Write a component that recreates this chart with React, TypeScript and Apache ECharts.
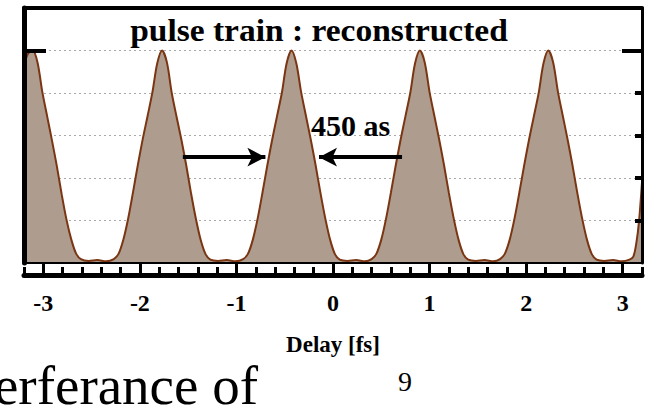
import React, { useEffect, useRef } from "react";
import * as echarts from "echarts";

// Delay [fs] sample positions
const delay = [
  -3.2, -3.16, -3.11, -3.06, -3.01, -2.96, -2.91, -2.86, -2.81, -2.76, -2.71, -2.66, -2.61, -2.53, -2.44, -2.35,
  -2.27, -2.22, -2.17, -2.12, -2.07, -2.02, -1.97, -1.92, -1.87, -1.82, -1.77, -1.72, -1.67, -1.62, -1.57, -1.52,
  -1.47, -1.42, -1.37, -1.32, -1.27, -1.19, -1.1, -1.01, -0.93, -0.88, -0.83, -0.78, -0.73, -0.68, -0.63, -0.58,
  -0.53, -0.48, -0.43, -0.38, -0.33, -0.28, -0.23, -0.18, -0.13, -0.08, -0.03, 0.02, 0.07, 0.15, 0.24, 0.33,
  0.4, 0.45, 0.5, 0.55, 0.6, 0.65, 0.7, 0.75, 0.8, 0.85, 0.9, 0.95, 1.0, 1.05, 1.1, 1.15,
  1.2, 1.25, 1.3, 1.35, 1.4, 1.48, 1.57, 1.66, 1.73, 1.78, 1.83, 1.88, 1.93, 1.98, 2.03, 2.08,
  2.13, 2.18, 2.23, 2.28, 2.33, 2.38, 2.43, 2.48, 2.53, 2.58, 2.63, 2.68, 2.73, 2.81, 2.9, 2.99,
  3.07, 3.11, 3.14, 3.17, 3.2,
];

// Reconstructed intensity (arb. units)
const intensity = [
  4.65, 4.92, 5.0, 4.72, 4.02, 3.45, 2.88, 2.28, 1.62, 1.02, 0.55, 0.22, 0.09, 0.05, 0.07, 0.04,
  0.09, 0.22, 0.56, 1.06, 1.68, 2.32, 2.92, 3.46, 4.02, 4.7, 5.0, 4.72, 4.0, 3.44, 2.9, 2.3,
  1.64, 1.04, 0.54, 0.21, 0.08, 0.05, 0.07, 0.04, 0.09, 0.22, 0.55, 1.05, 1.66, 2.3, 2.9, 3.45,
  4.0, 4.7, 5.0, 4.7, 4.02, 3.46, 2.9, 2.3, 1.65, 1.05, 0.55, 0.21, 0.08, 0.05, 0.07, 0.04,
  0.09, 0.22, 0.55, 1.05, 1.66, 2.3, 2.9, 3.45, 4.0, 4.7, 5.0, 4.72, 4.02, 3.46, 2.9, 2.3,
  1.65, 1.05, 0.55, 0.21, 0.08, 0.05, 0.07, 0.04, 0.09, 0.22, 0.55, 1.05, 1.66, 2.3, 2.9, 3.45,
  4.0, 4.7, 5.0, 4.72, 4.02, 3.46, 2.9, 2.3, 1.65, 1.05, 0.55, 0.21, 0.08, 0.05, 0.07, 0.04,
  0.08, 0.15, 0.45, 1.0, 1.9,
];

const delayTickLabels = [-3, -2, -1, 0, 1, 2, 3];
const delayMinorTicks = [
  -3.2, -3.0, -2.8, -2.6, -2.4, -2.2, -2.0, -1.8, -1.6, -1.4, -1.2, -1.0, -0.8, -0.6, -0.4, -0.2, 0,
  0.2, 0.4, 0.6, 0.8, 1.0, 1.2, 1.4, 1.6, 1.8, 2.0, 2.2, 2.4, 2.6, 2.8, 3.0, 3.2,
];
const intensityMinorTicks = [1, 2, 3, 4];
const intensityMajorTicks = [5];

// FWHM arrows (delay, intensity)
const arrowLeft = [[-1.555, 2.49], [-0.7, 2.49]];
const arrowRight = [[0.715, 2.49], [-0.145, 2.49]];

const FONT = '"Liberation Serif", "Times New Roman", serif';
const AXIS_FONT = "Liberation Serif";

export default function App() {
  const ref = useRef<HTMLDivElement>(null);
  useEffect(() => {
    if (!ref.current) return;
    const chart = echarts.init(ref.current, null, { renderer: "svg" });
    const X_MIN = -3.2;
    const X_MAX = 3.2;
    const Y_MIN = 0;
    const Y_MAX = 6;
    const hiddenX = {
      type: "value",
      min: X_MIN,
      max: X_MAX,
      splitLine: { show: false },
      axisLabel: { show: false },
      axisTick: { show: false },
    };
    const hiddenY = {
      type: "value",
      min: Y_MIN,
      max: Y_MAX,
      splitLine: { show: false },
      axisLabel: { show: false },
      axisTick: { show: false },
    };
    chart.setOption({
      animation: false,
      backgroundColor: "#ffffff",
      grid: { left: 24, right: 8, top: 8, bottom: 149, containLabel: false },
      xAxis: [
        {
          ...hiddenX,
          position: "bottom",
          offset: 12,
          z: 10,
          axisLine: { show: true, onZero: false, lineStyle: { color: "#000", width: 5 } },
          axisTick: {
            show: true,
            inside: true,
            length: 8,
            customValues: delayMinorTicks,
            lineStyle: { color: "#000", width: 3 },
          },
          axisLabel: {
            show: true,
            customValues: delayTickLabels,
            margin: 16,
            color: "#000",
            fontFamily: AXIS_FONT,
            fontWeight: "bold",
            fontSize: 24,
          },
          name: "Delay [fs]",
          nameLocation: "middle",
          nameGap: 58,
          nameTextStyle: { color: "#000", fontFamily: AXIS_FONT, fontWeight: "bold", fontSize: 23 },
        },
        {
          ...hiddenX,
          position: "bottom",
          offset: 12,
          z: 10,
          axisLine: { show: false, onZero: false },
          axisTick: {
            show: true,
            inside: true,
            length: 12,
            customValues: delayTickLabels,
            lineStyle: { color: "#000", width: 3 },
          },
        },
        {
          ...hiddenX,
          position: "bottom",
          offset: 0,
          z: 10,
          axisLine: { show: true, onZero: false, lineStyle: { color: "#000", width: 2 } },
        },
        {
          ...hiddenX,
          position: "top",
          offset: 0,
          z: 10,
          axisLine: { show: true, onZero: false, lineStyle: { color: "#000", width: 4 } },
        },
      ],
      yAxis: [
        {
          type: "value",
          min: Y_MIN,
          max: Y_MAX,
          interval: 1,
          position: "left",
          z: 0,
          axisLine: { show: false, onZero: false },
          axisTick: { show: false },
          axisLabel: { show: false },
          splitLine: { show: true, lineStyle: { color: "#aaaaaa", width: 1, type: [2, 3] } },
        },
        {
          ...hiddenY,
          position: "left",
          z: 10,
          axisLine: { show: true, onZero: false, lineStyle: { color: "#000", width: 5 } },
          axisTick: {
            show: true,
            inside: true,
            length: 22,
            customValues: intensityMajorTicks,
            lineStyle: { color: "#000", width: 4 },
          },
        },
        {
          ...hiddenY,
          position: "right",
          z: 10,
          axisLine: { show: true, onZero: false, lineStyle: { color: "#000", width: 3 } },
          axisTick: {
            show: true,
            inside: true,
            length: 7,
            customValues: intensityMinorTicks,
            lineStyle: { color: "#000", width: 4 },
          },
        },
        {
          ...hiddenY,
          position: "right",
          z: 10,
          axisLine: { show: false, onZero: false },
          axisTick: {
            show: true,
            inside: true,
            length: 20,
            customValues: intensityMajorTicks,
            lineStyle: { color: "#000", width: 4 },
          },
        },
      ],
      series: [
        {
          type: "line",
          xAxisIndex: 0,
          yAxisIndex: 0,
          data: delay.map((d, i) => [d, intensity[i]]),
          showSymbol: false,
          smooth: 0.3,
          lineStyle: { color: "#7a3512", width: 2 },
          areaStyle: { color: "#ae9d8e", opacity: 1 },
          markLine: {
            silent: true,
            symbol: ["none", "arrow"],
            symbolSize: [14, 18],
            label: { show: false },
            lineStyle: { color: "#000", width: 4, type: "solid" },
            data: [
              [{ coord: arrowLeft[0] }, { coord: arrowLeft[1] }],
              [{ coord: arrowRight[0] }, { coord: arrowRight[1] }],
            ],
          },
        },
      ],
      graphic: [
        {
          type: "text",
          x: 319,
          y: 30,
          z: 20,
          scaleX: 1.08,
          style: {
            text: "pulse train : reconstructed",
            font: `bold 31px ${FONT}`,
            fill: "#000",
            textAlign: "center",
            textVerticalAlign: "middle",
          },
        },
        {
          type: "text",
          x: 311,
          y: 125,
          z: 20,
          style: {
            text: "450 as",
            font: `bold 30px ${FONT}`,
            fill: "#000",
            textAlign: "left",
            textVerticalAlign: "middle",
          },
        },
        {
          type: "text",
          x: 258,
          y: 413,
          z: 20,
          style: {
            text: "Interferance of",
            font: `55px ${FONT}`,
            fill: "#000",
            textAlign: "right",
            textVerticalAlign: "bottom",
          },
        },
        {
          type: "text",
          x: 405,
          y: 381,
          z: 20,
          style: {
            text: "9",
            font: `28px ${FONT}`,
            fill: "#000",
            textAlign: "center",
            textVerticalAlign: "middle",
          },
        },
      ],
    });
    return () => chart.dispose();
  }, []);
  return (
    <div
      ref={ref}
      style={{ position: "fixed", left: 0, top: 0, width: 650, height: 412 }}
    />
  );
}
